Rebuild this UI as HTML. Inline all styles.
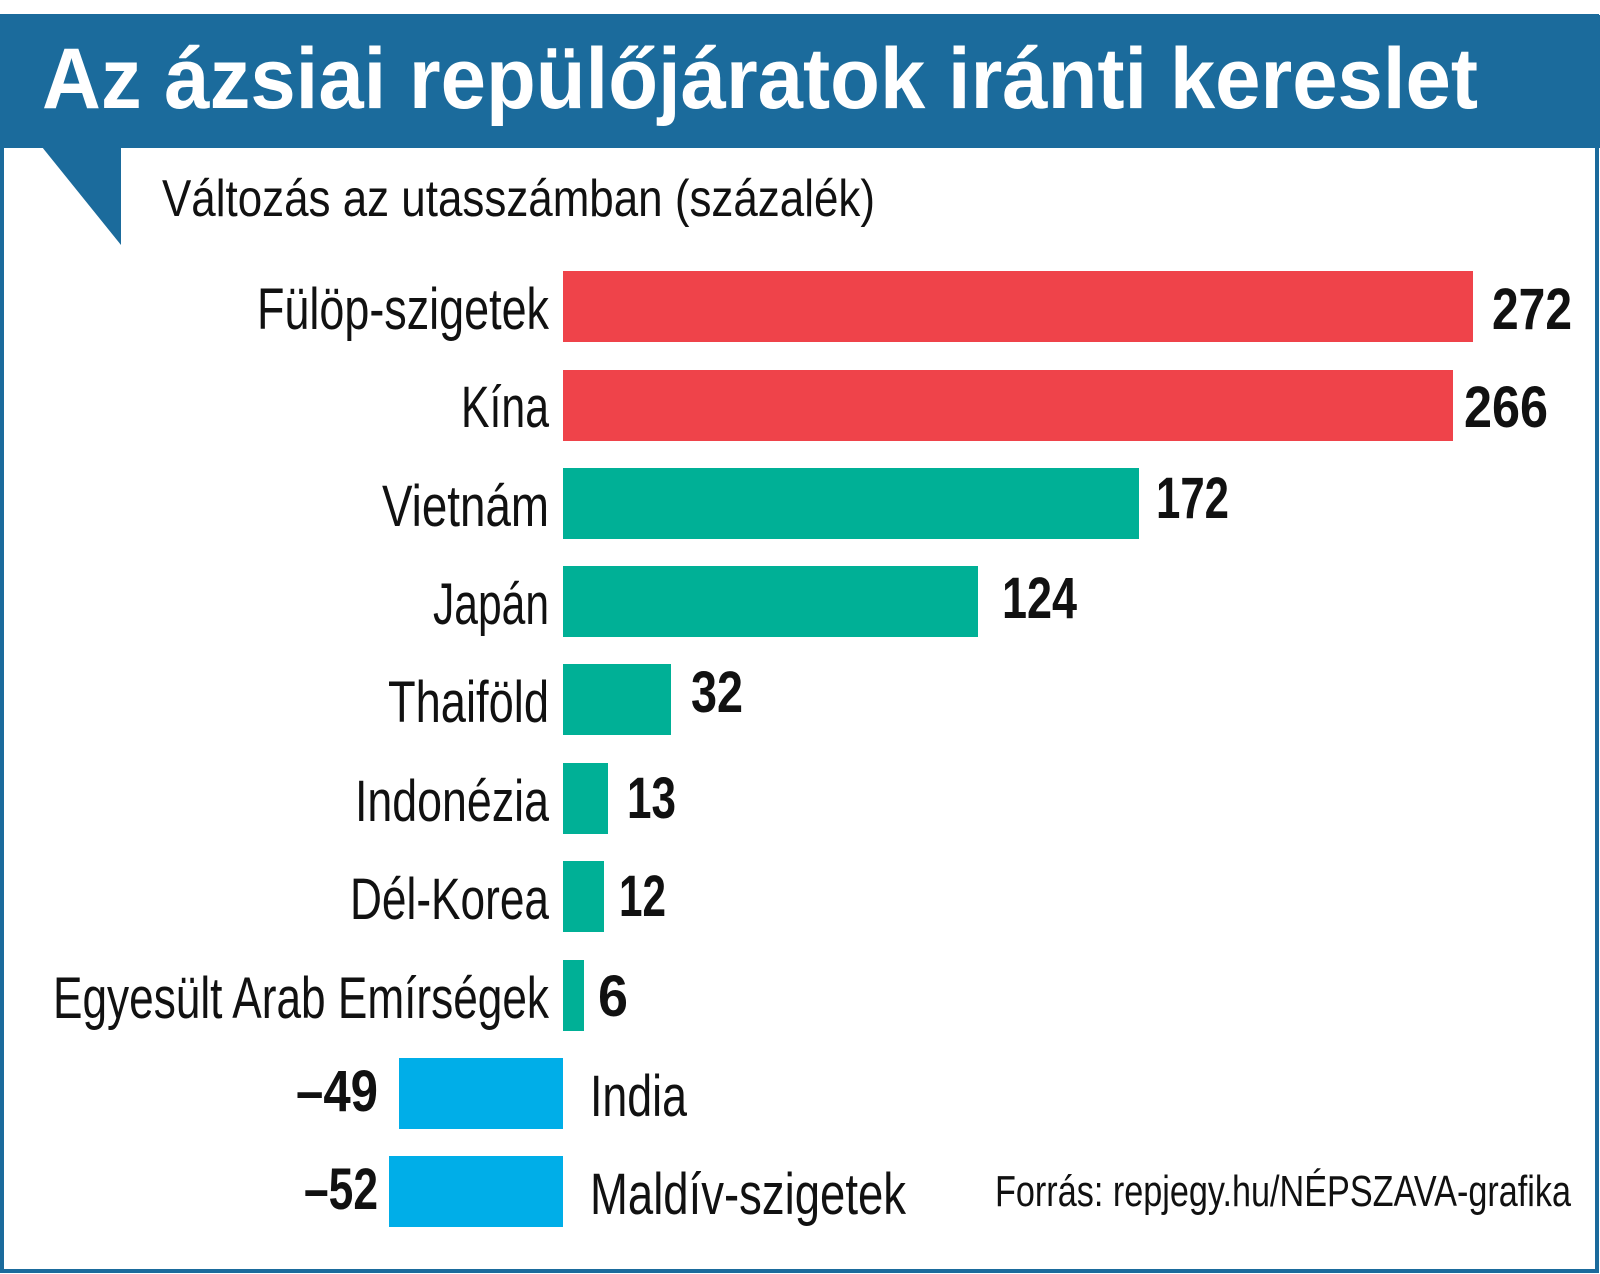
<!DOCTYPE html>
<html><head><meta charset="utf-8"><style>html,body{margin:0;padding:0;background:#fff}svg{display:block}</style></head>
<body>
<svg width="1600" height="1274" viewBox="0 0 1600 1274" xmlns="http://www.w3.org/2000/svg" font-family="Liberation Sans Narrow, Liberation Sans, sans-serif">
<rect x="0" y="0" width="1600" height="1274" fill="#fff"/>
<rect x="2" y="16" width="1595" height="1255" fill="none" stroke="#1b6b9c" stroke-width="4"/>
<rect x="0" y="15" width="1600" height="133" fill="#1b6b9c"/>
<polygon points="42,147 121,147 121,245" fill="#1b6b9c"/>
<text x="42" y="108" font-family="Liberation Sans, sans-serif" font-weight="bold" font-size="86" fill="#fff" textLength="1436" lengthAdjust="spacingAndGlyphs">Az ázsiai repülőjáratok iránti kereslet</text>
<text x="162" y="216" font-size="52" fill="#111" textLength="713" lengthAdjust="spacingAndGlyphs">Változás az utasszámban (százalék)</text>
<g fill="#111" font-size="58">
<rect x="563" y="271" width="910" height="71" fill="#ef434a"/>
<text x="549" y="329" text-anchor="end" textLength="292" lengthAdjust="spacingAndGlyphs">Fülöp-szigetek</text>
<text x="1492" y="329" font-weight="bold" textLength="80" lengthAdjust="spacingAndGlyphs">272</text>
<rect x="563" y="370" width="890" height="71" fill="#ef434a"/>
<text x="549" y="427" text-anchor="end" textLength="88" lengthAdjust="spacingAndGlyphs">Kína</text>
<text x="1464" y="427" font-weight="bold" textLength="84" lengthAdjust="spacingAndGlyphs">266</text>
<rect x="563" y="468" width="576" height="71" fill="#00b096"/>
<text x="549" y="526" text-anchor="end" textLength="167" lengthAdjust="spacingAndGlyphs">Vietnám</text>
<text x="1156" y="518" font-weight="bold" textLength="73" lengthAdjust="spacingAndGlyphs">172</text>
<rect x="563" y="566" width="415" height="71" fill="#00b096"/>
<text x="549" y="624" text-anchor="end" textLength="116" lengthAdjust="spacingAndGlyphs">Japán</text>
<text x="1002" y="618" font-weight="bold" textLength="75" lengthAdjust="spacingAndGlyphs">124</text>
<rect x="563" y="664" width="108" height="71" fill="#00b096"/>
<text x="549" y="722" text-anchor="end" textLength="161" lengthAdjust="spacingAndGlyphs">Thaiföld</text>
<text x="691" y="712" font-weight="bold" textLength="52" lengthAdjust="spacingAndGlyphs">32</text>
<rect x="563" y="763" width="45" height="71" fill="#00b096"/>
<text x="549" y="821" text-anchor="end" textLength="194" lengthAdjust="spacingAndGlyphs">Indonézia</text>
<text x="627" y="818" font-weight="bold" textLength="49" lengthAdjust="spacingAndGlyphs">13</text>
<rect x="563" y="861" width="41" height="71" fill="#00b096"/>
<text x="549" y="919" text-anchor="end" textLength="199" lengthAdjust="spacingAndGlyphs">Dél-Korea</text>
<text x="619" y="916" font-weight="bold" textLength="47" lengthAdjust="spacingAndGlyphs">12</text>
<rect x="563" y="960" width="21" height="71" fill="#00b096"/>
<text x="549" y="1018" text-anchor="end" textLength="496" lengthAdjust="spacingAndGlyphs">Egyesült Arab Emírségek</text>
<text x="598" y="1016" font-weight="bold" textLength="30" lengthAdjust="spacingAndGlyphs">6</text>
<rect x="399" y="1058" width="164" height="71" fill="#00aee8"/>
<text x="590" y="1116" textLength="97" lengthAdjust="spacingAndGlyphs">India</text>
<text x="378" y="1111" text-anchor="end" font-weight="bold" textLength="82" lengthAdjust="spacingAndGlyphs">–49</text>
<rect x="389" y="1156" width="174" height="71" fill="#00aee8"/>
<text x="590" y="1214" textLength="316" lengthAdjust="spacingAndGlyphs">Maldív-szigetek</text>
<text x="378" y="1209" text-anchor="end" font-weight="bold" textLength="74" lengthAdjust="spacingAndGlyphs">–52</text>
</g>
<text x="995" y="1206" font-size="44" fill="#111" textLength="576" lengthAdjust="spacingAndGlyphs">Forrás: repjegy.hu/NÉPSZAVA-grafika</text>
</svg>
</body></html>
